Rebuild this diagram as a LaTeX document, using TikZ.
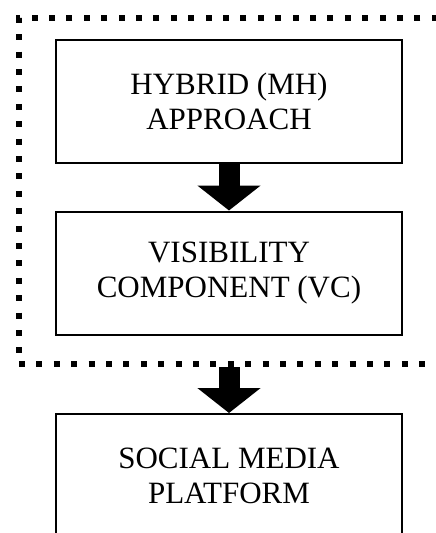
\documentclass[tikz,border=0pt]{standalone}
\usepackage{fontspec}
\setmainfont{Liberation Serif}
\usetikzlibrary{arrows.meta, positioning}

\begin{document}
\begin{tikzpicture}[
    x=1pt, y=1pt,
    box/.style={draw=black, line width=2pt, minimum width=346pt, minimum height=123pt, align=center, inner sep=0pt, font=\fontsize{31}{35}\selectfont},  % plain boxes
    frame/.style={draw=black, line width=6pt, dash pattern=on 6pt off 11.4pt, minimum width=454pt, minimum height=346pt, inner sep=0pt},
    bigarrow/.style={draw=black, line width=21pt, -{Triangle[width=62pt, length=25pt]}}
]

% Page area
\clip (0,0) rectangle (436,-533);

% Dotted frame round the upper two boxes
\node[frame, anchor=north west] (frame) at (16,-15) {};

% Boxes
\node[box] (hybrid) at (229,-101.5) {HYBRID (MH)\\APPROACH};
\node[box] (visib) at (229,-273) {VISIBILITY\\COMPONENT (VC)};
\node[box] (social) at (229,-475.5) {SOCIAL MEDIA\\PLATFORM};

% Block arrows
\draw[bigarrow] (hybrid) -- (visib);
\draw[bigarrow] (visib.south |- frame.south) -- (social.north);

\end{tikzpicture}
\end{document}
